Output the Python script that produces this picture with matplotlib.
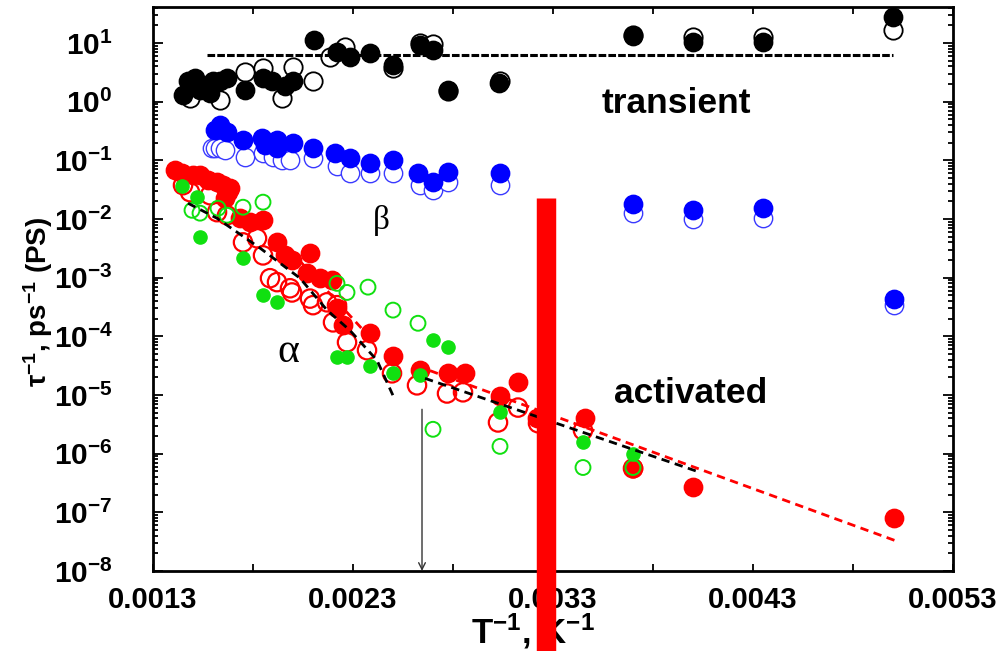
import numpy as np
import matplotlib
matplotlib.use('Agg')
import matplotlib.pyplot as plt
from matplotlib.ticker import FixedLocator, FuncFormatter, LogLocator, NullFormatter

plt.rcParams['font.family'] = ['Liberation Sans', 'DejaVu Sans']
plt.rcParams['mathtext.fontset'] = 'custom'
plt.rcParams['mathtext.rm'] = 'Liberation Sans:bold'
plt.rcParams['mathtext.bf'] = 'Liberation Sans:bold'
plt.rcParams['mathtext.it'] = 'Liberation Sans:bold:italic'
plt.rcParams['mathtext.default'] = 'rm'

# ---- data: inverse temperature (1/K) and relaxation rate (1/ps) ----
# transient (black)
tr_fill_x = [0.00145, 0.001475, 0.00151, 0.001535, 0.001585, 0.0016, 0.001635, 0.00167,
             0.00176, 0.00185, 0.001895, 0.00196, 0.0020, 0.002105, 0.00222, 0.002285,
             0.002385, 0.0025, 0.002635, 0.0027, 0.002775, 0.00303, 0.0037, 0.0040,
             0.00435, 0.0050]
tr_fill_y = [1.3, 2.3, 2.5, 1.6, 1.4, 2.3, 2.3, 2.5,
             1.6, 2.5, 2.3, 1.85, 2.3, 11.3, 7.0, 5.8,
             6.7, 4.2, 9.2, 7.6, 1.6, 2.07, 13.2, 10.4,
             10.4, 27.8]
tr_open_x = [0.001485, 0.001635, 0.00176, 0.00185, 0.001945, 0.0020, 0.0021, 0.002185,
             0.00226, 0.0025, 0.002635, 0.0027, 0.002775, 0.003035, 0.0037, 0.0040,
             0.00435, 0.0050]
tr_open_y = [1.15, 1.06, 3.2, 3.7, 1.15, 3.9, 2.3, 5.8,
             8.5, 3.7, 10.0, 9.6, 1.5, 2.3, 13.7, 12.7,
             12.7, 16.7]
tr_level = 6.2
tr_span = [0.00157, 0.0050]

# beta (blue)
b_fill_x = [0.00161, 0.001635, 0.00167, 0.00175, 0.001845, 0.00186, 0.00192, 0.00192,
            0.0020, 0.0021, 0.00221, 0.002285, 0.002385, 0.0025, 0.002625, 0.0027,
            0.002775, 0.003035, 0.0037, 0.0040, 0.00435, 0.005005]
b_fill_y = [0.33, 0.40, 0.30, 0.22, 0.24, 0.18, 0.22, 0.16,
            0.20, 0.16, 0.133, 0.109, 0.090, 0.10, 0.061, 0.042,
            0.063, 0.061, 0.0179, 0.0141, 0.0153, 4.4e-4]
b_open_x = [0.001595, 0.00161, 0.001635, 0.00166, 0.00176, 0.00185, 0.0019, 0.001945,
            0.001985, 0.0021, 0.00222, 0.002285, 0.002385, 0.0025, 0.002635, 0.0027,
            0.002775, 0.003035, 0.0037, 0.0040, 0.00435, 0.005005]
b_open_y = [0.161, 0.161, 0.161, 0.149, 0.113, 0.133, 0.113, 0.10,
            0.10, 0.109, 0.080, 0.061, 0.061, 0.061, 0.038, 0.031,
            0.042, 0.038, 0.0126, 0.0099, 0.0103, 3.4e-4]

# alpha (red)
a_fill_x = [0.00141, 0.001445, 0.0015, 0.001535, 0.001575, 0.00162, 0.00165, 0.001685,
            0.001675, 0.00166, 0.001735, 0.001785, 0.00185, 0.00192, 0.00196, 0.001995,
            0.002085, 0.00207, 0.002135, 0.002195, 0.00222, 0.00225, 0.002385, 0.0025,
            0.002635, 0.002775, 0.00286, 0.003035, 0.003125, 0.00322, 0.00346, 0.0037,
            0.0040, 0.005005]
a_fill_y = [0.068, 0.0605, 0.056, 0.056, 0.046, 0.0425, 0.0378, 0.0336,
            0.0287, 0.0226, 0.0103, 0.0088, 0.0095, 0.0040, 0.0024, 0.00198,
            0.0026, 0.00119, 0.00098, 0.00090, 0.00030, 1.54e-4, 1.12e-4, 4.7e-5,
            2.63e-5, 2.34e-5, 2.34e-5, 9.5e-6, 1.64e-5, 4.0e-6, 4.0e-6, 5.8e-7,
            2.65e-7, 8.1e-8]
a_open_x = [0.00145, 0.001485, 0.001585, 0.00162, 0.00167, 0.00175, 0.00182, 0.00185,
            0.001885, 0.00192, 0.001985, 0.001995, 0.002085, 0.0021, 0.00217, 0.00222,
            0.0022, 0.00227, 0.00237, 0.002495, 0.00262, 0.00277, 0.00285, 0.003025,
            0.003125, 0.003225, 0.00345, 0.0037]
a_open_y = [0.0378, 0.0287, 0.0255, 0.0131, 0.0116, 0.0040, 0.0047, 0.0024,
            0.00098, 0.00084, 0.00066, 0.00056, 0.00044, 0.00034, 0.00038, 0.00034,
            1.73e-4, 7.9e-5, 5.8e-5, 2.34e-5, 1.46e-5, 1.06e-5, 1.11e-5, 3.4e-6,
            6.1e-6, 3.3e-6, 2.49e-6, 5.6e-7]

# second set (green)
g_fill_x = [0.001445, 0.00152, 0.001535, 0.00175, 0.00185, 0.00192, 0.00222, 0.00227,
            0.002385, 0.0025, 0.002635, 0.0027, 0.002775, 0.003035, 0.00345, 0.0037]
g_fill_y = [0.0363, 0.0236, 0.0049, 0.00214, 0.0005, 0.00038, 4.4e-5, 4.4e-5,
            3.1e-5, 2.34e-5, 2.16e-5, 8.6e-5, 6.7e-5, 5.2e-6, 1.6e-6, 1.0e-6]
g_open_x = [0.001495, 0.001535, 0.001625, 0.00167, 0.00175, 0.00185, 0.00222, 0.00227,
            0.002375, 0.0025, 0.002625, 0.0027, 0.003035, 0.00345, 0.0037]
g_open_y = [0.0141, 0.0126, 0.0153, 0.0116, 0.0159, 0.0194, 0.0008, 0.00056,
            0.00069, 0.00028, 1.67e-4, 2.6e-6, 1.33e-6, 5.8e-7, 5.8e-7]

# fits
fit_hi_x = [0.001475, 0.00162, 0.001835, 0.002035, 0.00217, 0.002285, 0.00242, 0.0025]
fit_hi_y = [1.86e-2, 1.03e-2, 3.2e-3, 9.8e-4, 2.8e-4, 1.26e-4, 3.9e-5, 9.8e-6]
fit_lo_x = [0.00266, 0.004035]
fit_lo_y = [1.92e-5, 4.8e-7]
red_hi_x = [0.001985, 0.002375]
red_hi_y = [2.94e-3, 1.04e-4]
red_lo_x = [0.002685, 0.00501]
red_lo_y = [2.6e-5, 3.3e-8]

arrow_x = 0.002645
arrow_top = 5.7e-6
bar_x = 0.0032625

xticks = [0.0013, 0.0023, 0.0033, 0.0043, 0.0053]

fig, ax = plt.subplots(figsize=(10.04, 6.51), dpi=100)
fig.subplots_adjust(left=0.1524, right=0.9492, top=0.989, bottom=0.123)

ms_big = 175
ax.scatter(tr_open_x, tr_open_y, s=ms_big, facecolors='white', edgecolors='black', linewidths=1.3, zorder=2)
ax.scatter(tr_fill_x, tr_fill_y, s=ms_big, color='black', zorder=3)
ax.scatter(b_open_x, b_open_y, s=ms_big, facecolors='white', edgecolors='#3a3aff', linewidths=1.0, zorder=2)
ax.scatter(b_fill_x, b_fill_y, s=ms_big, color='#0000ff', zorder=3)
ax.scatter(a_open_x, a_open_y, s=ms_big, facecolors='none', edgecolors='#ff0000', linewidths=1.6, zorder=3)
ax.scatter(a_fill_x, a_fill_y, s=ms_big, color='#ff0000', zorder=3)
ax.scatter(g_open_x, g_open_y, s=115, facecolors='none', edgecolors='#10e010', linewidths=1.4, zorder=4)
ax.scatter(g_fill_x, g_fill_y, s=90, color='#10e010', zorder=4)

ax.plot(tr_span, [tr_level, tr_level], color='black', lw=2.2, ls=(0, (2.5, 0.7)), zorder=5)
ax.plot(fit_hi_x, fit_hi_y, color='black', lw=2, ls=(0, (3, 2)), zorder=5)
ax.plot(fit_lo_x, fit_lo_y, color='black', lw=2, ls=(0, (3, 2)), zorder=5)
ax.plot(red_hi_x, red_hi_y, color='#ff0000', lw=2, ls=(0, (3, 2)), zorder=5)
ax.plot(red_lo_x, red_lo_y, color='#ff0000', lw=2, ls=(0, (3, 2)), zorder=5)

ax.annotate('', xy=(arrow_x, 1e-8), xytext=(arrow_x, arrow_top),
            arrowprops=dict(arrowstyle='->', color='#333333', lw=1.0,
                            shrinkA=0, shrinkB=0, mutation_scale=12))

ax.text(0.003545, 0.64, 'transient', fontsize=25.5, fontweight='bold', ha='left', va='baseline')
ax.text(0.003605, 7.2e-6, 'activated', fontsize=25.5, fontweight='bold', ha='left', va='baseline')
ax.text(0.00244, 0.0096, '\u03b2', fontsize=24, family='Liberation Serif', ha='center', va='center')
ax.text(0.001975, 5.5e-5, '\u03b1', fontsize=30, family='Liberation Serif', ha='center', va='center')

ax.set_yscale('log')
ax.set_xlim(0.0013, 0.0053)
ax.set_ylim(1e-8, 41)

ax.xaxis.set_major_locator(FixedLocator(xticks))
ax.xaxis.set_minor_locator(FixedLocator([0.0018, 0.0028, 0.0038, 0.0048]))
ax.set_xticklabels(['%.4f' % t for t in xticks], fontsize=21, fontweight='bold')
ax.yaxis.set_major_locator(LogLocator(base=10, numticks=20))
ax.yaxis.set_minor_locator(LogLocator(base=10, subs=np.arange(2, 10), numticks=20))
ax.yaxis.set_minor_formatter(NullFormatter())
ax.yaxis.set_major_formatter(FuncFormatter(lambda v, p: r'$10^{%d}$' % round(np.log10(v))))

ax.tick_params(which='both', direction='in', top=True, right=True, width=1.3)
ax.tick_params(axis='y', which='major', length=7, labelsize=21.5, pad=29)
ax.tick_params(axis='y', which='minor', length=3.5)
ax.tick_params(axis='x', which='both', length=5, pad=11)
for sp in ax.spines.values():
    sp.set_linewidth(2)

ax.set_xlabel(r'T$^{-1}$, K$^{-1}$', fontsize=25, fontweight='bold')
ax.xaxis.set_label_coords(0.475, -0.072)
ax.set_ylabel(r'$\tau^{-1}$, ps$^{-1}$ (PS)', fontsize=20, fontweight='bold')
ax.yaxis.set_label_coords(-0.122, 0.477)

# red marker bar across the lower part of the figure
ax.vlines(bar_x, 4e-10, 0.0226, colors='#ff0000', lw=14, clip_on=False, zorder=10)

plt.savefig('out.png', dpi=100)
